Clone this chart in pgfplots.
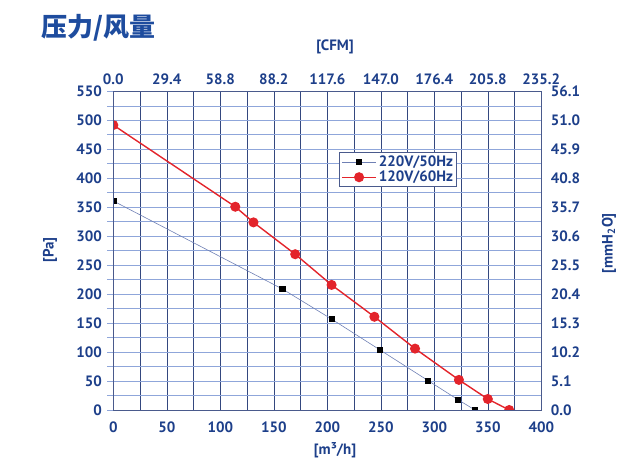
\documentclass[border=0pt]{standalone}
\usepackage{pgfplots}
\pgfplotsset{compat=1.18}
\usepackage{fontspec}
\setmainfont{PT Sans}
\newfontfamily\cjk{Noto Sans CJK SC}
\definecolor{txt}{HTML}{1D3F8A}
\definecolor{ttl}{HTML}{1E4C9E}
\definecolor{hgrid}{HTML}{8FA6DA}
\definecolor{vgrid}{HTML}{34487F}
\definecolor{frm}{HTML}{4A5A8C}
\definecolor{bline}{HTML}{6F80B4}
\definecolor{rline}{HTML}{E3242B}
\begin{document}
\begin{tikzpicture}[x=1pt,y=1pt]
\useasboundingbox (0,0) rectangle (631,460);
\node[anchor=west, text=ttl, font=\cjk\bfseries\fontsize{26}{30}\selectfont] at (38,432) {压力/风量};
\begin{axis}[
  at={(113.3pt,50pt)}, anchor=south west, scale only axis,
  width=428pt, height=318.5pt,
  xmin=0, xmax=400, ymin=0, ymax=550,
  xtick={0,50,...,400}, ytick={0,50,...,550},
  minor xtick={25,75,...,375}, minor ytick={25,75,...,525},
  grid=both,
  major x grid style={vgrid, line width=0.6pt},
  minor x grid style={vgrid, line width=0.6pt},
  major y grid style={hgrid, line width=0.9pt},
  minor y grid style={hgrid, line width=0.9pt},
  axis line style={frm, line width=0.6pt},
  xtick pos=bottom, ytick pos=left,
  tick align=outside,
  major x tick style={draw=none}, minor x tick style={draw=none},
  major y tick style={hgrid, line width=0.9pt}, minor y tick style={hgrid, line width=0.9pt},
  major tick length=6pt, minor tick length=6pt,
  /pgf/number format/assume math mode=true,
  ticklabel style={font=\bfseries\fontsize{15}{17}\selectfont, text=txt},
  yticklabel style={xshift=-2pt},
  xticklabel style={yshift=-2pt},
  label style={font=\bfseries\fontsize{15}{17}\selectfont, text=txt},
  xlabel={[m³/h]},
  xlabel style={at={(axis description cs:0.518,-0.126)}, anchor=center},
  ylabel={[Pa]},
  ylabel style={at={(axis description cs:-0.148,0.502)}, anchor=center},
  clip marker paths=true,
  legend style={at={(0.803,0.81)}, anchor=north east, draw=frm, line width=0.8pt,
    font=\bfseries\fontsize{15}{17}\selectfont, text=txt, inner sep=1.5pt, row sep=-1pt},
  legend cell align=left,
  legend image code/.code={\draw[mark repeat=2,mark phase=2] plot coordinates {(0pt,0pt) (17pt,0pt) (34pt,0pt)};},
]
\addplot[bline, line width=0.6pt, mark=square*, mark size=2.6pt, mark options={fill=black, draw=black}]
  coordinates {(0,361) (158,209) (204,157) (249,104) (294,51) (322,18) (338,0)};
\addlegendentry{220V/50Hz}
\addplot[rline, line width=1.4pt, mark=*, mark size=4.3pt, mark options={fill=rline, draw=rline}]
  coordinates {(0,492) (114,351) (131,324) (170,269) (204,216) (244,161) (282,106) (323,52) (350,19) (370,0)};
\addlegendentry{120V/60Hz}
\end{axis}
\begin{axis}[
  at={(113.3pt,50pt)}, anchor=south west, scale only axis,
  width=428pt, height=318.5pt,
  xmin=0, xmax=400, ymin=0, ymax=550,
  xtick={0,50,...,400}, ytick={0,50,...,550},
  xticklabels={0.0,29.4,58.8,88.2,117.6,147.0,176.4,205.8,235.2},
  yticklabels={0.0,5.1,10.2,15.3,20.4,25.5,30.6,35.7,40.8,45.9,51.0,56.1},
  xtick pos=upper, ytick pos=right,
  xticklabel pos=upper, yticklabel pos=right,
  axis line style={frm, line width=0.6pt},
  tick style={draw=none},
  ticklabel style={font=\bfseries\fontsize{15}{17}\selectfont, text=txt},
  yticklabel style={xshift=6pt},
  xticklabel style={yshift=3pt},
  label style={font=\bfseries\fontsize{15}{17}\selectfont, text=txt},
  xlabel={[CFM]},
  xlabel style={at={(axis description cs:0.518,1.14)}, anchor=center},
  ylabel={[mmH\textsubscript{2}O]},
  ylabel style={at={(axis description cs:1.158,0.524)}, anchor=center},
]
\end{axis}
\end{tikzpicture}
\end{document}
